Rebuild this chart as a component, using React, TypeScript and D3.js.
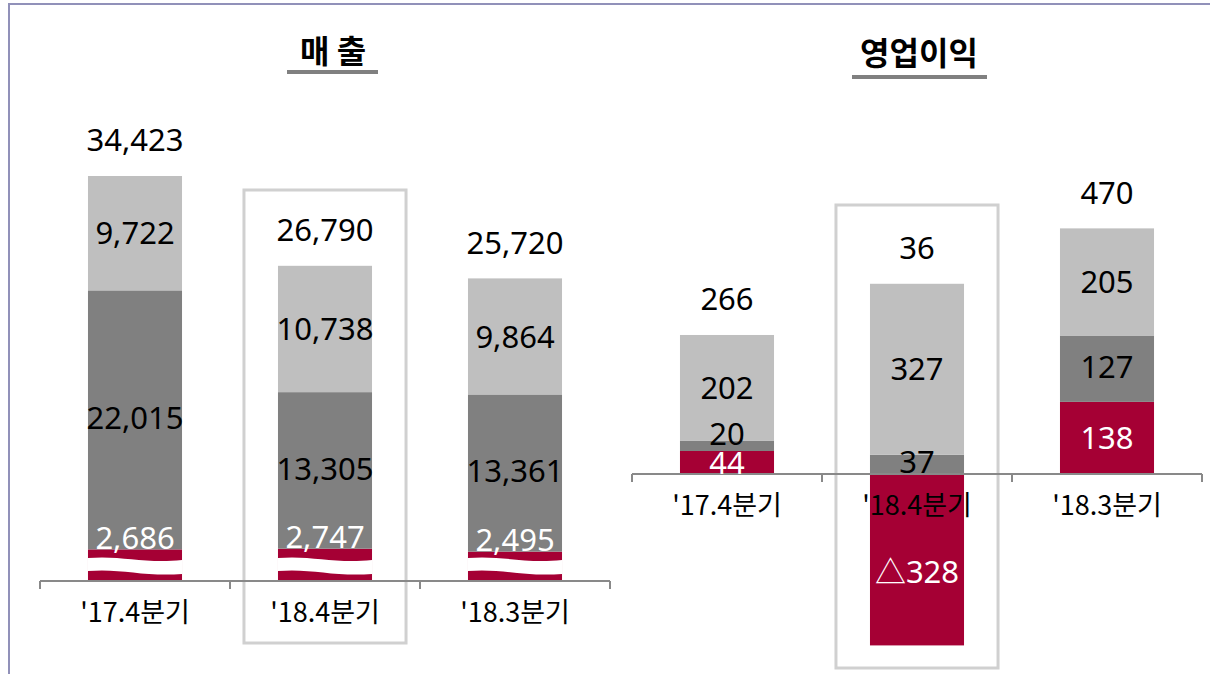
import React from "react";
import * as d3 from "d3";

// ---- data ----
const categories = ["'17.4분기", "'18.4분기", "'18.3분기"];

// 매출 (sales) stack, bottom -> top
const salesRed = [2686, 2747, 2495];
const salesDark = [22015, 13305, 13361];
const salesLight = [9722, 10738, 9864];
const salesTotal = [34423, 26790, 25720];

// 영업이익 (operating profit) stack
const opRed = [44, -328, 138];
const opDark = [20, 37, 127];
const opLight = [202, 327, 205];
const opTotal = [266, 36, 470];

const highlightIndex = 1;

const RED = "#a50034";
const DARK = "#808080";
const LIGHT = "#bfbfbf";
const FONT = "'Noto Sans CJK KR', 'Noto Sans', sans-serif";
const NUMFONT = "'Noto Sans', 'Noto Sans CJK KR', sans-serif";

const fmt = d3.format(",");
const fmtSigned = (v: number) => (v < 0 ? "△" + fmt(-v) : fmt(v));

function buildStacks(red: number[], dark: number[], light: number[]) {
  const rows = categories.map((c, i) => ({ cat: c, red: red[i], dark: dark[i], light: light[i] }));
  const stack = d3
    .stack<any>()
    .keys(["red", "dark", "light"])
    .offset(d3.stackOffsetDiverging);
  return { rows, series: stack(rows) };
}

function Axis({ x, y0 }: { x: d3.ScaleBand<string>; y0: number }) {
  const [r0, r1] = x.range();
  const step = x.step();
  const ticks = d3.range(categories.length + 1).map((i) => r0 + i * step);
  return (
    <g stroke="#898989" strokeWidth={2} fill="none">
      <line x1={r0} x2={r1} y1={y0} y2={y0} />
      {ticks.map((t, i) => (
        <line key={i} x1={t} x2={t} y1={y0} y2={y0 + 8} />
      ))}
    </g>
  );
}

function Panel({
  red, dark, light, total, xRange, yDomain, yRange, wave, boxTop, boxBottom, catY,
}: {
  red: number[]; dark: number[]; light: number[]; total: number[];
  xRange: [number, number]; yDomain: [number, number]; yRange: [number, number];
  wave: boolean; boxTop: number; boxBottom: number; catY: number;
}) {
  const x = d3.scaleBand<string>().domain(categories).range(xRange).paddingInner(0.505).paddingOuter(0.2525);
  const y = d3.scaleLinear().domain(yDomain).range(yRange);
  const { series } = buildStacks(red, dark, light);
  const colors: Record<string, string> = { red: RED, dark: DARK, light: LIGHT };
  const y0 = y(0);
  const bw = x.bandwidth();

  return (
    <g fontFamily={FONT}>
      {/* highlight box */}
      <rect
        x={(x(categories[highlightIndex]) as number) - 34}
        y={boxTop}
        width={bw + 68}
        height={boxBottom - boxTop}
        fill="none"
        stroke="#d0d0d0"
        strokeWidth={3}
      />
      {series.map((s) =>
        s.map((d, i) => {
          const bx = x(categories[i]) as number;
          const top = y(Math.max(d[0], d[1]));
          const bot = y(Math.min(d[0], d[1]));
          return <rect key={s.key + i} x={bx} y={top} width={bw} height={Math.max(0, bot - top)} fill={colors[s.key]} />;
        })
      )}
      {wave &&
        categories.map((c, i) => {
          const bx = x(c) as number;
          const w = bw;
          const t = y0 - 23;
          const b = y0 - 10;
          const p =
            `M${bx},${t} C${bx + w * 0.35},${t - 3} ${bx + w * 0.6},${t + 6} ${bx + w},${t + 2}` +
            ` L${bx + w},${b + 3} C${bx + w * 0.6},${b + 6} ${bx + w * 0.35},${b - 3} ${bx},${b} Z`;
          return <path key={"w" + i} d={p} fill="#ffffff" />;
        })}
      <Axis x={x} y0={y0} />
      {/* segment labels */}
      {series.map((s) =>
        s.map((d, i) => {
          const cx = (x(categories[i]) as number) + bw / 2;
          const v = s.key === "red" ? red[i] : s.key === "dark" ? dark[i] : light[i];
          const top = y(Math.max(d[0], d[1]));
          const bot = y(Math.min(d[0], d[1]));
          const h = bot - top;
          let cy = (top + bot) / 2;
          let fill = "#000";
          if (s.key === "red") {
            fill = "#fff";
            if (wave) cy = top - 12;
            else if (v < 0) cy = cy + 12;
          } else if (s.key === "dark") {
            cy = h < 15 ? top - 7 : cy - 2;
          }
          return (
            <text key={"l" + s.key + i} x={cx} y={cy} dy="0.36em" textAnchor="middle" fontFamily={NUMFONT} fontSize={31} fill={fill}>
              {fmtSigned(v)}
            </text>
          );
        })
      )}
      {/* totals */}
      {total.map((t, i) => {
        const cx = (x(categories[i]) as number) + bw / 2;
        const posTop = y(Math.max(0, red[i]) + dark[i] + light[i]);
        return (
          <text key={"t" + i} x={cx} y={posTop - 36} dy="0.36em" textAnchor="middle" fontFamily={NUMFONT} fontSize={31} fill="#000">
            {fmt(t)}
          </text>
        );
      })}
      {/* category labels */}
      {categories.map((c) => (
        <text key={"c" + c} x={(x(c) as number) + bw / 2} y={catY} dy="0.36em" textAnchor="middle" fontSize={27} fill="#000">
          {c}
        </text>
      ))}
    </g>
  );
}

export default function App() {
  return (
    <svg width={1210} height={674} style={{ position: "absolute", left: 0, top: 0, background: "#fff" }}>
      <rect width={1210} height={674} fill="#fff" />
      {/* frame */}
      <line x1={8} x2={1210} y1={4} y2={4} stroke="#9191b9" strokeWidth={2} />
      <line x1={9} x2={9} y1={3} y2={674} stroke="#9191b9" strokeWidth={2} />

      {/* titles */}
      <text x={333} y={63} textAnchor="middle" fontFamily={FONT} fontWeight={700} fontSize={32} fill="#000">
        매 출
      </text>
      <rect x={287} y={70} width={91} height={4} fill="#808080" />
      <text x={919} y={65} textAnchor="middle" fontFamily={FONT} fontWeight={700} fontSize={32} fill="#000">
        영업이익
      </text>
      <rect x={852} y={75} width={135} height={4} fill="#808080" />

      <Panel
        red={salesRed}
        dark={salesDark}
        light={salesLight}
        total={salesTotal}
        xRange={[40, 610]}
        yDomain={[0, 34423]}
        yRange={[581, 176]}
        wave={true}
        boxTop={190}
        boxBottom={643}
        catY={612}
      />
      <Panel
        red={opRed}
        dark={opDark}
        light={opLight}
        total={opTotal}
        xRange={[632, 1202]}
        yDomain={[-350, 500]}
        yRange={[474 + 350 * 0.5226, 474 - 500 * 0.5226]}
        wave={false}
        boxTop={205}
        boxBottom={668}
        catY={505}
      />
    </svg>
  );
}
